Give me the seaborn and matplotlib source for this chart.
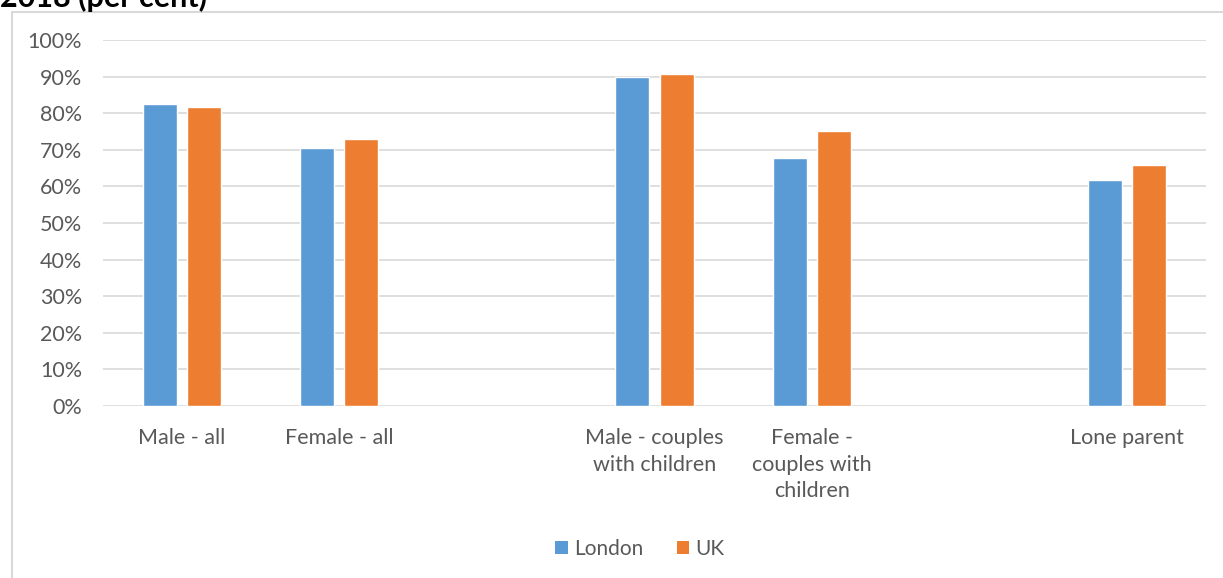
import matplotlib
matplotlib.use("Agg")
import matplotlib.pyplot as plt
import seaborn as sns
import pandas as pd
from matplotlib.patches import Rectangle, Patch
from matplotlib.ticker import PercentFormatter

# ---- data ----
categories = ["Male - all", "Female - all", "gap1",
              "Male - couples with children", "Female - couples with children", "gap2",
              "Lone parent"]
tick_labels = ["Male - all", "Female - all", "",
               "Male - couples\nwith children", "Female -\ncouples with\nchildren", "",
               "Lone parent"]
real_categories = ["Male - all", "Female - all",
                   "Male - couples with children", "Female - couples with children",
                   "Lone parent"]
london = [0.824, 0.704, 0.898, 0.677, 0.617]
uk = [0.816, 0.729, 0.908, 0.751, 0.658]
series = ["London", "UK"]
colors = ["#5B9BD5", "#ED7D31"]

df = pd.DataFrame({
    "category": real_categories * 2,
    "value": london + uk,
    "series": ["London"] * len(london) + ["UK"] * len(uk),
})

sns.set_theme(style="white")
plt.rcParams["font.family"] = ["Lato", "DejaVu Sans"]

fig = plt.figure(figsize=(12.23, 5.78), dpi=100)
ax = fig.add_axes([103 / 1223, 1 - 406 / 578, (1206 - 103) / 1223, (406 - 40) / 578])

sns.barplot(data=df, x="category", y="value", hue="series", order=categories,
            hue_order=series, palette=colors, width=0.56, gap=0.23,
            ax=ax, legend=False, saturation=1)

ax.set_xlim(-0.5, len(categories) - 0.5)
ax.set_ylim(0, 1.0)
ax.set_yticks([i / 10 for i in range(11)])
ax.yaxis.set_major_formatter(PercentFormatter(1.0, decimals=0))
ax.grid(axis="y", color="#D9D9D9", linewidth=1.2)
ax.set_axisbelow(True)
for s in ax.spines.values():
    s.set_visible(False)

pos = [i for i, t in enumerate(tick_labels) if t]
ax.set_xticks(pos)
ax.set_xticklabels([tick_labels[i] for i in pos], linespacing=1.4)
ax.tick_params(axis="both", length=0, labelsize=15.5, labelcolor="#595959")
ax.tick_params(axis="y", pad=15)
ax.tick_params(axis="x", pad=16)
ax.set_xlabel("")
ax.set_ylabel("")

# outer chart border
fig.patches.append(Rectangle((12 / 1223, -0.1), 1.2, 1 - 12 / 578 + 0.1,
                             transform=fig.transFigure, fill=False,
                             edgecolor="#D9D9D9", linewidth=1.5))

# partially cut title line (cut at the top edge, as in the reference)
fig.text(0.0, 1 - 7 / 578, "2018 (per cent)", fontsize=22, fontweight="bold",
         color="black", ha="left", va="baseline")

handles = [Patch(facecolor=c, edgecolor="none", label=s) for s, c in zip(series, colors)]
fig.legend(handles=handles, loc="center", bbox_to_anchor=(640 / 1223, 1 - 549 / 578),
           ncol=2, frameon=False, fontsize=15, labelcolor="#595959",
           handlelength=0.6, handleheight=0.6, handletextpad=0.3, columnspacing=1.6)

fig.savefig("out.png", dpi=100)
